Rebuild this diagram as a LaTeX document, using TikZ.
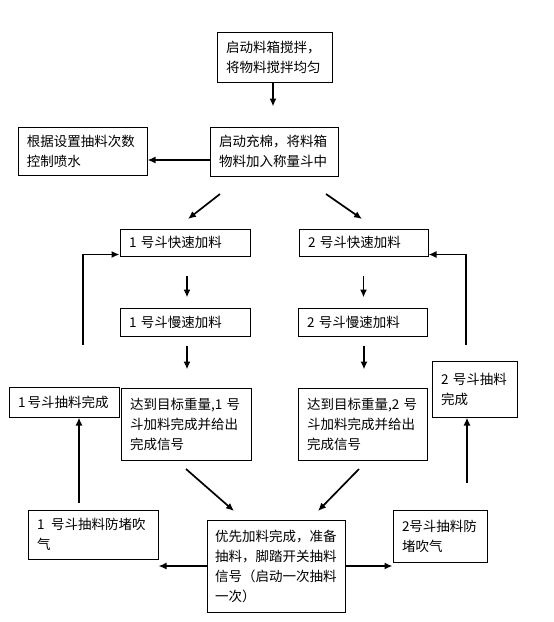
\documentclass[tikz,border=0pt]{standalone}
\usepackage{fontspec}
\setmainfont{Noto Sans CJK SC}
\usetikzlibrary{arrows.meta,calc}
\begin{document}
\begin{tikzpicture}[x=1pt,y=-1pt,
  box/.style={draw,line width=1pt,inner xsep=9pt,inner ysep=0pt,align=left,
    font=\fontsize{13.5}{20}\selectfont},
  arr/.style={line width=1.7pt,-{Latex[length=8pt,width=7pt]}}]
\fill[white] (0,0) rectangle (554,622);
\useasboundingbox (0,0) rectangle (554,622);

\node[box,text width=97pt,minimum height=50pt] (A) at (274.5,57) {启动料箱搅拌，\\将物料搅拌均匀};
\node[box,text width=110pt,minimum height=49pt] (B) at (274,151.5) {启动充棉，将料箱\\物料加入称量斗中};
\node[box,text width=111pt,minimum height=48pt] (C) at (82.5,151) {根据设置抽料次数\\控制喷水};
\node[box,text width=112pt,minimum height=27pt] (D1) at (185,242.5) {1~号斗快速加料};
\node[box,text width=111pt,minimum height=27pt] (D2) at (363.5,242.5) {2~号斗快速加料};
\node[box,text width=112pt,minimum height=28pt] (E1) at (185,322) {1~号斗慢速加料};
\node[box,text width=111pt,minimum height=28pt] (E2) at (362.5,322) {2~号斗慢速加料};
\node[box,text width=112pt,minimum height=72pt] (F1) at (186,424) {达到目标重量,1~号\\斗加料完成并给出\\完成信号};
\node[box,text width=111pt,minimum height=72pt] (F2) at (362.5,424) {达到目标重量,2~号\\斗加料完成并给出\\完成信号};
\node[box,text width=92pt,minimum height=30pt] (L1) at (64,402) {1\,号斗抽料完成};
\node[box,text width=67pt,minimum height=56pt] (R1) at (474.5,389) {2~号斗抽料\\完成};
\node[box,text width=112pt,minimum height=49pt] (G1) at (93,534.5) {1\enspace 号斗抽料防堵吹\\气};
\node[box,text width=76pt,minimum height=52pt] (G2) at (440,536) {2号斗抽料防\\堵吹气};
\node[box,inner xsep=8pt,text width=122pt,minimum height=92pt] (H) at (276,566) {优先加料完成，准备\\抽料，脚踏开关抽料\\信号（启动一次抽料\\一次）};

% free ends
\coordinate (bc) at ([yshift=-8.5pt]B.west);
\coordinate (bl1) at (220,194);
\coordinate (bl2) at (188,219);
\coordinate (br1) at (326,194);
\coordinate (br2) at (362,219);
\coordinate (fl1) at (186,469);
\coordinate (fl2) at (234,511);
\coordinate (fr1) at (359,469);
\coordinate (fr2) at (318,511);
\coordinate (g1u) at (79,503);
\coordinate (g2u) at (467,483);
\coordinate (l1u) at (83,345);
\coordinate (r1u) at (466,345);

\draw[arr,shorten >=20pt] ([xshift=-1.5pt]A.south) -- ([xshift=-1.5pt]A.south |- B.north);
\draw[arr] (bc) -- (bc -| C.east);
\draw[arr] (bl1) -- (bl2);
\draw[arr] (br1) -- (br2);
\draw[arr,shorten <=19pt,shorten >=10pt] ([xshift=2pt]D1.south) -- ([xshift=2pt]D1.south |- E1.north);
\draw[arr,shorten <=19pt,shorten >=10pt] (D2.south) -- (D2.south |- E2.north);
\draw[arr,shorten <=9pt,shorten >=18pt] ([xshift=2pt]E1.south) -- ([xshift=2pt]E1.south |- F1.north);
\draw[arr,shorten <=9pt,shorten >=18pt] ([xshift=1.5pt]E2.south) -- ([xshift=1.5pt]E2.south |- F2.north);
\draw[arr] (fl1) -- (fl2);
\draw[arr] (fr1) -- (fr2);
\draw[arr] (H.west) -- (H.west -| G1.east);
\draw[arr] (H.east) -- (H.east -| G2.west);
\draw[arr] (g1u) -- (g1u |- L1.south);
\draw[arr] (g2u) -- (g2u |- R1.south);
\draw[arr] (l1u) |- ($(D1.south west)+(0,-2)$);
\draw[arr] (r1u) |- ($(D2.south east)+(0,-2)$);
\end{tikzpicture}
\end{document}
